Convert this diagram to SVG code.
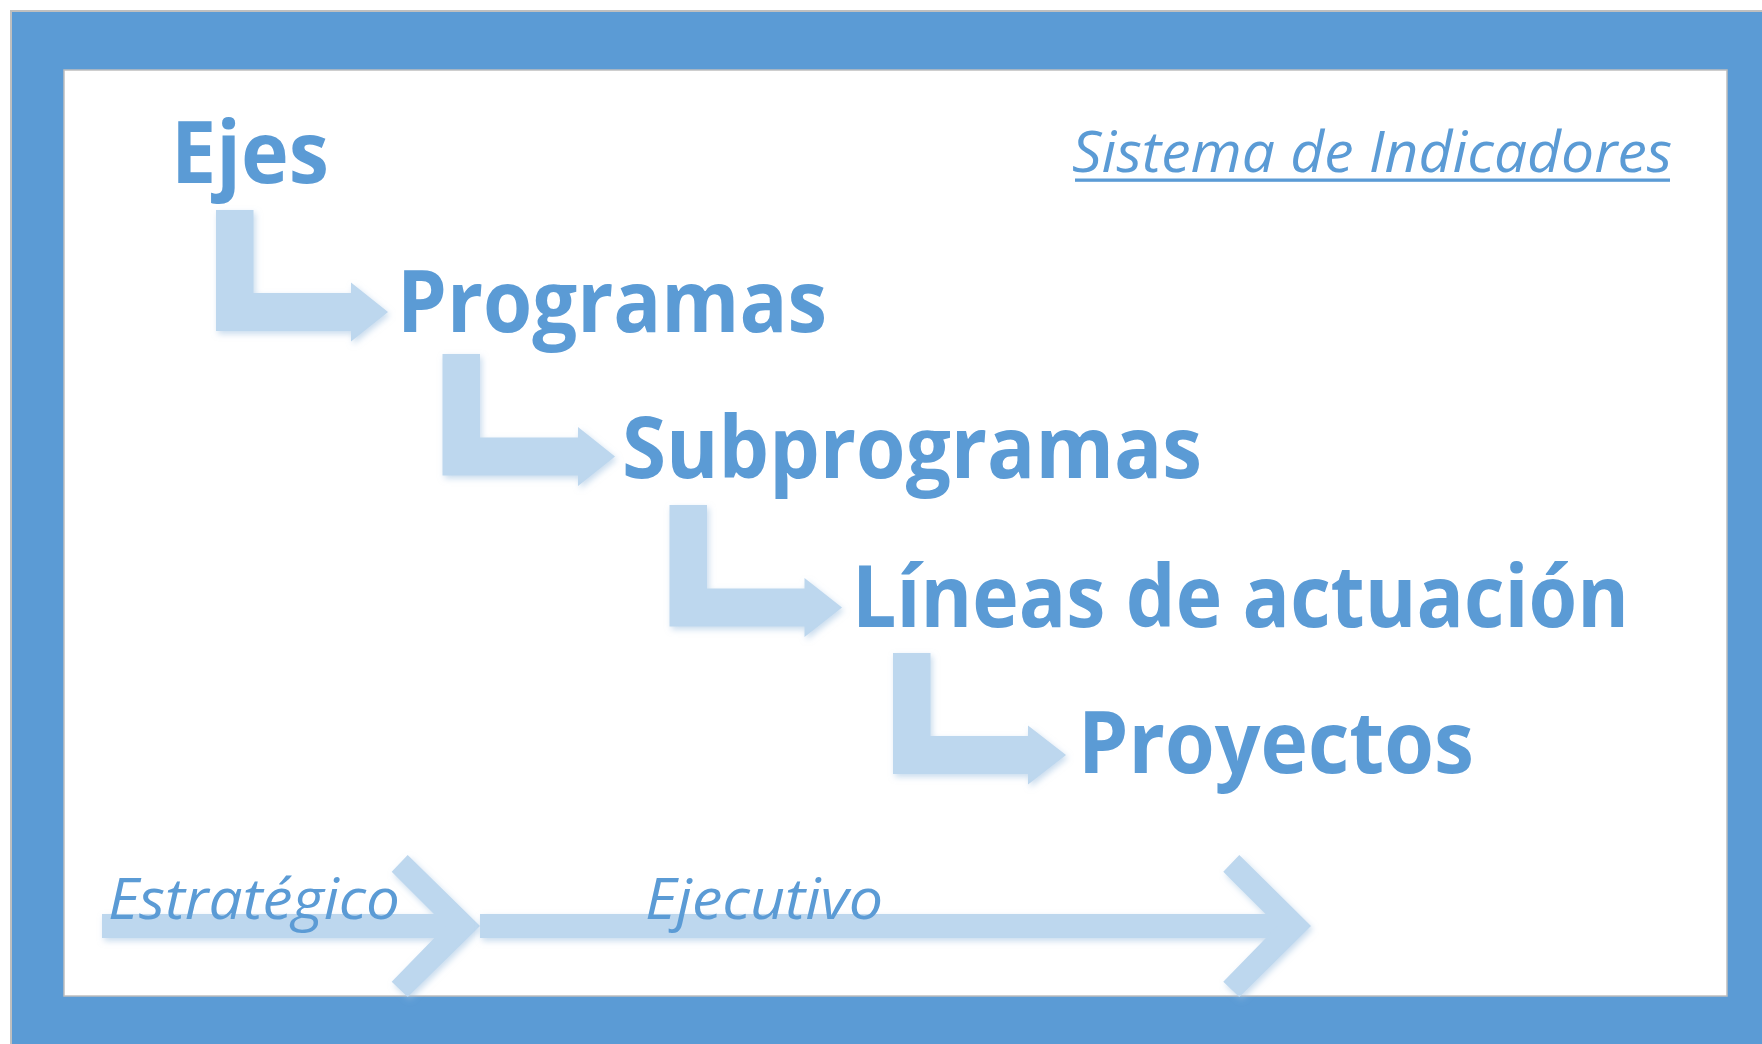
<svg xmlns="http://www.w3.org/2000/svg" width="1762" height="1044" viewBox="0 0 1762 1044">
  <defs>
    <filter id="sh" x="-10%" y="-10%" width="130%" height="130%">
      <feDropShadow dx="2" dy="3" stdDeviation="3" flood-color="#9DBFE0" flood-opacity="0.55"/>
    </filter>
    <style>
      .lvl { font-family: "Open Sans", "Noto Sans", sans-serif; font-weight: 700; font-size: 86px; fill: #5B9BD5; }
      .it { font-family: "Open Sans", "Noto Sans", sans-serif; font-style: italic; font-weight: 400; font-size: 57px; fill: #5B9BD5; }
      .arr { fill: #BDD7EE; }
    </style>
  </defs>

  <g id="frame">
    <rect x="11" y="11" width="1800" height="1100" fill="#5B9BD5" stroke="#BFBFBF" stroke-width="2"/>
    <rect x="64" y="70" width="1663" height="926" fill="#FFFFFF" stroke="#BEBEBE" stroke-width="1.5"/>
  </g>

  <g id="connectors">
    <path class="arr" filter="url(#sh)" d="M216,210 H253.5 V293 H351 V282.5 L388,312 L351,341.5 V331 H216 Z"/>
    <path class="arr" filter="url(#sh)" d="M442.5,354 H480 V437.5 H578 V427 L615,456.5 L578,486 V475.5 H442.5 Z"/>
    <path class="arr" filter="url(#sh)" d="M669.5,505 H707 V588.5 H804.5 V578 L842,607.5 L804.5,637 V626.5 H669.5 Z"/>
    <path class="arr" filter="url(#sh)" d="M893,653 H930.5 V736 H1028 V725.5 L1066,755 L1028,784.5 V774 H893 Z"/>
    <g filter="url(#sh)">
      <rect class="arr" x="102" y="914" width="350" height="24"/>
      <polygon class="arr" points="407.7,855 480,926 407.7,997 391.7,981.7 446,926 391.7,871.7"/>
    </g>
    <g filter="url(#sh)">
      <rect class="arr" x="480" y="914" width="803" height="24"/>
      <polygon class="arr" points="1239.3,855 1311,926 1239.3,997 1223.3,981.7 1277.6,926 1223.3,871.7"/>
    </g>
  </g>

  <g id="node-ejes"><text class="lvl" x="171" y="183" textLength="158" lengthAdjust="spacingAndGlyphs">Ejes</text></g>
  <g id="node-programas"><text class="lvl" x="397" y="331.7" textLength="430" lengthAdjust="spacingAndGlyphs">Programas</text></g>
  <g id="node-subprogramas"><text class="lvl" x="622" y="478.3" textLength="580" lengthAdjust="spacingAndGlyphs">Subprogramas</text></g>
  <g id="node-lineas"><text class="lvl" x="852" y="626.5" textLength="777" lengthAdjust="spacingAndGlyphs">Líneas de actuación</text></g>
  <g id="node-proyectos"><text class="lvl" x="1078" y="773.3" textLength="396" lengthAdjust="spacingAndGlyphs">Proyectos</text></g>

  <g id="title">
    <text class="it" x="1072" y="172" textLength="600" lengthAdjust="spacingAndGlyphs">Sistema de Indicadores</text>
    <rect x="1075" y="178.5" width="595" height="3.3" fill="#5B9BD5"/>
  </g>
  <g id="label-estrategico"><text class="it" x="108" y="919" textLength="292" lengthAdjust="spacingAndGlyphs">Estratégico</text></g>
  <g id="label-ejecutivo"><text class="it" x="645" y="919" textLength="238" lengthAdjust="spacingAndGlyphs">Ejecutivo</text></g>
</svg>
